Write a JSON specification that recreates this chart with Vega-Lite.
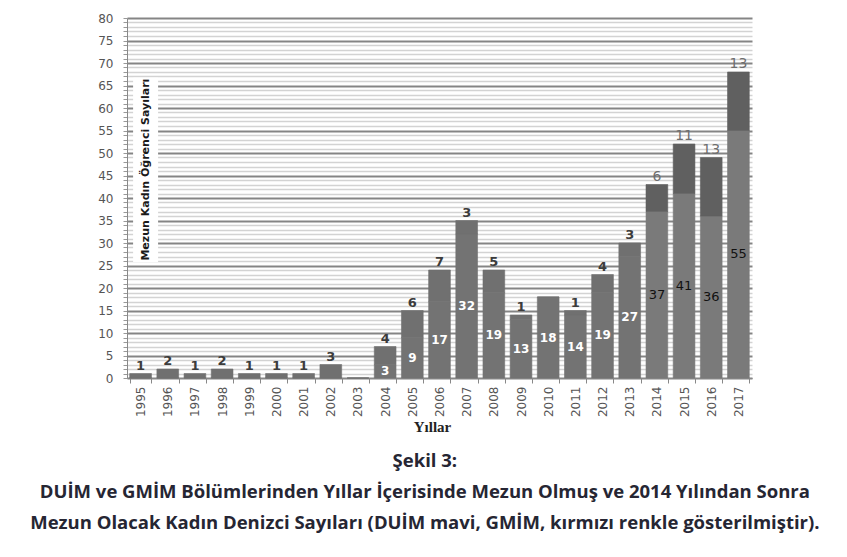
{
  "$schema": "https://vega.github.io/schema/vega-lite/v6.json",
  "autosize": {"type": "none"},
  "width": 625,
  "height": 360,
  "padding": {"left": 127, "top": 18, "right": 95, "bottom": 179},
  "background": "white",
  "config": {"view": {"stroke": null}},
  "title": {
    "text": [
      "Şekil 3:",
      "DUİM ve GMİM Bölümlerinden Yıllar İçerisinde Mezun Olmuş ve 2014 Yılından Sonra",
      "Mezun Olacak Kadın Denizci Sayıları (DUİM mavi, GMİM, kırmızı renkle gösterilmiştir)."
    ],
    "orient": "bottom",
    "anchor": "middle",
    "frame": "bounds",
    "font": "Open Sans",
    "fontSize": 18.5,
    "fontWeight": "bold",
    "color": "#262633",
    "lineHeight": 31,
    "offset": 17
  },
  "resolve": {"axis": {"y": "independent"}},
  "data": {
    "values": [
      {"yil": "1995", "bolum": "DUİM", "donem": "önce", "grup": "DUİM önce", "sayi": 0},
      {"yil": "1995", "bolum": "GMİM", "donem": "önce", "grup": "GMİM önce", "sayi": 1},
      {"yil": "1996", "bolum": "DUİM", "donem": "önce", "grup": "DUİM önce", "sayi": 0},
      {"yil": "1996", "bolum": "GMİM", "donem": "önce", "grup": "GMİM önce", "sayi": 2},
      {"yil": "1997", "bolum": "DUİM", "donem": "önce", "grup": "DUİM önce", "sayi": 0},
      {"yil": "1997", "bolum": "GMİM", "donem": "önce", "grup": "GMİM önce", "sayi": 1},
      {"yil": "1998", "bolum": "DUİM", "donem": "önce", "grup": "DUİM önce", "sayi": 0},
      {"yil": "1998", "bolum": "GMİM", "donem": "önce", "grup": "GMİM önce", "sayi": 2},
      {"yil": "1999", "bolum": "DUİM", "donem": "önce", "grup": "DUİM önce", "sayi": 0},
      {"yil": "1999", "bolum": "GMİM", "donem": "önce", "grup": "GMİM önce", "sayi": 1},
      {"yil": "2000", "bolum": "DUİM", "donem": "önce", "grup": "DUİM önce", "sayi": 0},
      {"yil": "2000", "bolum": "GMİM", "donem": "önce", "grup": "GMİM önce", "sayi": 1},
      {"yil": "2001", "bolum": "DUİM", "donem": "önce", "grup": "DUİM önce", "sayi": 0},
      {"yil": "2001", "bolum": "GMİM", "donem": "önce", "grup": "GMİM önce", "sayi": 1},
      {"yil": "2002", "bolum": "DUİM", "donem": "önce", "grup": "DUİM önce", "sayi": 0},
      {"yil": "2002", "bolum": "GMİM", "donem": "önce", "grup": "GMİM önce", "sayi": 3},
      {"yil": "2003", "bolum": "DUİM", "donem": "önce", "grup": "DUİM önce", "sayi": 0},
      {"yil": "2003", "bolum": "GMİM", "donem": "önce", "grup": "GMİM önce", "sayi": 0},
      {"yil": "2004", "bolum": "DUİM", "donem": "önce", "grup": "DUİM önce", "sayi": 3},
      {"yil": "2004", "bolum": "GMİM", "donem": "önce", "grup": "GMİM önce", "sayi": 4},
      {"yil": "2005", "bolum": "DUİM", "donem": "önce", "grup": "DUİM önce", "sayi": 9},
      {"yil": "2005", "bolum": "GMİM", "donem": "önce", "grup": "GMİM önce", "sayi": 6},
      {"yil": "2006", "bolum": "DUİM", "donem": "önce", "grup": "DUİM önce", "sayi": 17},
      {"yil": "2006", "bolum": "GMİM", "donem": "önce", "grup": "GMİM önce", "sayi": 7},
      {"yil": "2007", "bolum": "DUİM", "donem": "önce", "grup": "DUİM önce", "sayi": 32},
      {"yil": "2007", "bolum": "GMİM", "donem": "önce", "grup": "GMİM önce", "sayi": 3},
      {"yil": "2008", "bolum": "DUİM", "donem": "önce", "grup": "DUİM önce", "sayi": 19},
      {"yil": "2008", "bolum": "GMİM", "donem": "önce", "grup": "GMİM önce", "sayi": 5},
      {"yil": "2009", "bolum": "DUİM", "donem": "önce", "grup": "DUİM önce", "sayi": 13},
      {"yil": "2009", "bolum": "GMİM", "donem": "önce", "grup": "GMİM önce", "sayi": 1},
      {"yil": "2010", "bolum": "DUİM", "donem": "önce", "grup": "DUİM önce", "sayi": 18},
      {"yil": "2010", "bolum": "GMİM", "donem": "önce", "grup": "GMİM önce", "sayi": 0},
      {"yil": "2011", "bolum": "DUİM", "donem": "önce", "grup": "DUİM önce", "sayi": 14},
      {"yil": "2011", "bolum": "GMİM", "donem": "önce", "grup": "GMİM önce", "sayi": 1},
      {"yil": "2012", "bolum": "DUİM", "donem": "önce", "grup": "DUİM önce", "sayi": 19},
      {"yil": "2012", "bolum": "GMİM", "donem": "önce", "grup": "GMİM önce", "sayi": 4},
      {"yil": "2013", "bolum": "DUİM", "donem": "önce", "grup": "DUİM önce", "sayi": 27},
      {"yil": "2013", "bolum": "GMİM", "donem": "önce", "grup": "GMİM önce", "sayi": 3},
      {"yil": "2014", "bolum": "DUİM", "donem": "sonra", "grup": "DUİM sonra", "sayi": 37},
      {"yil": "2014", "bolum": "GMİM", "donem": "sonra", "grup": "GMİM sonra", "sayi": 6},
      {"yil": "2015", "bolum": "DUİM", "donem": "sonra", "grup": "DUİM sonra", "sayi": 41},
      {"yil": "2015", "bolum": "GMİM", "donem": "sonra", "grup": "GMİM sonra", "sayi": 11},
      {"yil": "2016", "bolum": "DUİM", "donem": "sonra", "grup": "DUİM sonra", "sayi": 36},
      {"yil": "2016", "bolum": "GMİM", "donem": "sonra", "grup": "GMİM sonra", "sayi": 13},
      {"yil": "2017", "bolum": "DUİM", "donem": "sonra", "grup": "DUİM sonra", "sayi": 55},
      {"yil": "2017", "bolum": "GMİM", "donem": "sonra", "grup": "GMİM sonra", "sayi": 13}
    ]
  },
  "encoding": {
    "x": {
      "field": "yil",
      "type": "ordinal",
      "scale": {"paddingInner": 0.2, "paddingOuter": 0.1},
      "axis": {
        "title": "Yıllar",
        "titleFont": "Liberation Serif",
        "titleFontSize": 15,
        "titleFontWeight": "bold",
        "titleColor": "#222222",
        "titlePadding": 3,
        "titleX": 305,
        "labelAngle": 270,
        "labelAlign": "right",
        "labelBaseline": "middle",
        "labelFont": "DejaVu Sans",
        "labelFontSize": 12,
        "labelColor": "#555555",
        "labelPadding": 3,
        "tickBand": "extent",
        "tickSize": 5,
        "tickColor": "#888888",
        "domainColor": "#888888",
        "grid": false
      }
    }
  },
  "layer": [
    {
      "mark": {"type": "bar", "strokeWidth": 0.6},
      "encoding": {
        "y": {
          "field": "sayi",
          "type": "quantitative",
          "stack": "zero",
          "scale": {"domain": [0, 80], "nice": false},
          "axis": {
            "title": null,
            "values": [0,1,2,3,4,5,6,7,8,9,10,11,12,13,14,15,16,17,18,19,20,21,22,23,24,25,26,27,28,29,30,31,32,33,34,35,36,37,38,39,40,41,42,43,44,45,46,47,48,49,50,51,52,53,54,55,56,57,58,59,60,61,62,63,64,65,66,67,68,69,70,71,72,73,74,75,76,77,78,79,80],
            "labelExpr": "datum.value % 5 === 0 ? datum.label : ''",
            "labelFont": "DejaVu Sans",
            "labelFontSize": 12,
            "labelColor": "#555555",
            "labelPadding": 10,
            "labelOverlap": false,
            "tickSize": 4,
            "tickColor": "#999999",
            "domainColor": "#888888",
            "grid": true,
            "gridColor": {"condition": {"test": "datum.value % 5 === 0", "value": "#858585"}, "value": "#d3d3d3"},
            "gridWidth": {"condition": {"test": "datum.value % 5 === 0", "value": 2}, "value": 1.5}
          }
        },
        "color": {
          "field": "grup",
          "type": "nominal",
          "scale": {
            "domain": ["DUİM önce", "GMİM önce", "DUİM sonra", "GMİM sonra"],
            "range": ["#737373", "#707070", "#7a7a7a", "#606060"]
          },
          "legend": null
        },
        "stroke": {
          "field": "grup",
          "type": "nominal",
          "scale": {
            "domain": ["DUİM önce", "GMİM önce", "DUİM sonra", "GMİM sonra"],
            "range": ["#737373", "#707070", "#7a7a7a", "#606060"]
          },
          "legend": null
        },
        "order": {"field": "bolum", "sort": "ascending"}
      }
    },
    {
      "data": {"values": [{}]},
      "mark": {"type": "rect", "color": "white", "width": 25, "xOffset": 5},
      "encoding": {
        "x": {"datum": "1995", "type": "ordinal"},
        "y": {"datum": 25.8, "type": "quantitative", "axis": null},
        "y2": {"datum": 66.7}
      }
    },
    {
      "data": {"values": [{}]},
      "mark": {
        "type": "text",
        "text": "Mezun Kadın Öğrenci Sayıları",
        "angle": 270,
        "font": "DejaVu Sans",
        "fontSize": 11,
        "fontWeight": "bold",
        "color": "#1a1a1a",
        "xOffset": 5,
        "align": "center",
        "baseline": "middle"
      },
      "encoding": {
        "x": {"datum": "1995", "type": "ordinal"},
        "y": {"datum": 46.3, "type": "quantitative", "axis": null}
      }
    },
    {
      "transform": [{"filter": "datum.donem === 'önce'"}],
      "mark": {"type": "text", "font": "DejaVu Sans", "fontSize": 12, "fontWeight": "bold", "color": "white", "baseline": "middle"},
      "encoding": {
        "y": {"field": "sayi", "type": "quantitative", "stack": "zero", "bandPosition": 0.5, "axis": null},
        "detail": {"field": "bolum"},
        "order": {"field": "bolum", "sort": "ascending"},
        "text": {"condition": {"test": "datum.bolum === 'DUİM' && datum.sayi > 0", "field": "sayi", "type": "quantitative"}, "value": ""}
      }
    },
    {
      "transform": [{"filter": "datum.donem === 'sonra'"}],
      "mark": {"type": "text", "font": "DejaVu Sans", "fontSize": 13, "color": "#111111", "baseline": "middle"},
      "encoding": {
        "y": {"field": "sayi", "type": "quantitative", "stack": "zero", "bandPosition": 0.5, "axis": null},
        "detail": {"field": "bolum"},
        "order": {"field": "bolum", "sort": "ascending"},
        "text": {"condition": {"test": "datum.bolum === 'DUİM' && datum.sayi > 0", "field": "sayi", "type": "quantitative"}, "value": ""}
      }
    },
    {
      "transform": [{"filter": "datum.donem === 'önce'"}],
      "mark": {"type": "text", "font": "DejaVu Sans", "fontSize": 13, "fontWeight": "bold", "color": "#3c3c3c", "baseline": "bottom", "dy": -1},
      "encoding": {
        "y": {"field": "sayi", "type": "quantitative", "stack": "zero", "axis": null},
        "detail": {"field": "bolum"},
        "order": {"field": "bolum", "sort": "ascending"},
        "text": {"condition": {"test": "datum.bolum === 'GMİM' && datum.sayi > 0", "field": "sayi", "type": "quantitative"}, "value": ""}
      }
    },
    {
      "transform": [{"filter": "datum.donem === 'sonra'"}],
      "mark": {"type": "text", "font": "DejaVu Sans", "fontSize": 14, "color": "#6e6e6e", "baseline": "bottom", "dy": -1},
      "encoding": {
        "y": {"field": "sayi", "type": "quantitative", "stack": "zero", "axis": null},
        "detail": {"field": "bolum"},
        "order": {"field": "bolum", "sort": "ascending"},
        "text": {"condition": {"test": "datum.bolum === 'GMİM' && datum.sayi > 0", "field": "sayi", "type": "quantitative"}, "value": ""}
      }
    }
  ]
}
